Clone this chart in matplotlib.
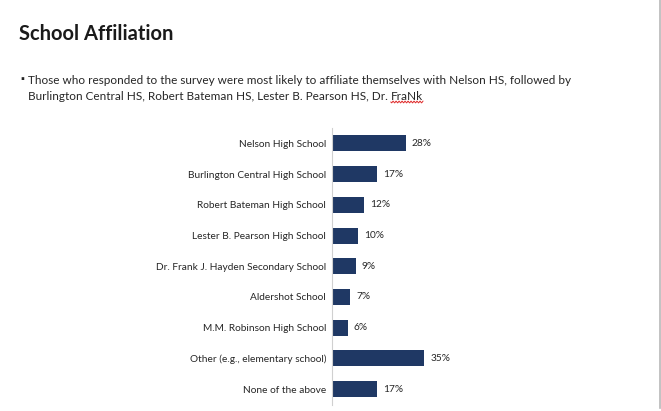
import numpy as np
import matplotlib
matplotlib.use("Agg")
from matplotlib import pyplot as plt
from matplotlib import lines

# survey data, top to bottom as shown
schools = ["Nelson High School",
           "Burlington Central High School",
           "Robert Bateman High School",
           "Lester B. Pearson High School",
           "Dr. Frank J. Hayden Secondary School",
           "Aldershot School",
           "M.M. Robinson High School",
           "Other (e.g., elementary school)",
           "None of the above"]
shares = [28, 17, 12, 10, 9, 7, 6, 35, 17]

title = "School Affiliation"
bullet_lines = ["Those who responded to the survey were most likely to affiliate themselves with Nelson HS, followed by",
                "Burlington Central HS, Robert Bateman HS, Lester B. Pearson HS, Dr. ",
                "FraNk"]

W, H = 661, 411
NAVY = "#1F3864"
TXT = "#262626"
plt.rcParams['font.family'] = ['Lato', 'DejaVu Sans']

fig = plt.figure(figsize=(W / 100, H / 100), dpi=100)


def fx(px):
    return px / W


def fy(py):
    return 1 - py / H


# title and bullet text
fig.text(fx(19), fy(34.5), title, fontsize=14.5, fontweight="bold",
         color="#1a1a1a", va="center", ha="left")
fig.text(fx(20), fy(80), "\u25aa", fontsize=7, color=TXT, va="center")
fig.text(fx(28), fy(80), bullet_lines[0], fontsize=8.5, color=TXT, va="center")
t2 = fig.text(fx(28), fy(96.5), bullet_lines[1], fontsize=8.5, color=TXT,
              va="center")

# misspelled word goes right after line 2, with a spell-check squiggle
renderer = fig.canvas.get_renderer()
x_end = 28 + t2.get_window_extent(renderer).width
t3 = fig.text(fx(x_end), fy(96.5), bullet_lines[2], fontsize=8.5, color=TXT,
              va="center")
w3 = t3.get_window_extent(renderer).width
sx = np.linspace(x_end, x_end + w3, 60)
sy = 102 + 0.9 * np.sin((sx - x_end) * 2.1)
fig.add_artist(lines.Line2D(fx(sx), fy(sy), color="#e03030", lw=0.7))

# right page border
fig.add_artist(lines.Line2D([fx(660), fx(660)], [fy(0), fy(408)],
                            color="#b8b8b8", lw=1.2))

ax = fig.add_axes([fx(332), fy(404.5), (596 - 332) / W, (404.5 - 128) / H])
ypos = np.arange(len(schools))
bars = ax.barh(ypos, shares, height=0.52, color=NAVY)
ax.set_xlim(0, 100)
ax.set_ylim(len(schools) - 0.5, -0.5)
for s in ["top", "right", "bottom"]:
    ax.spines[s].set_visible(False)
ax.spines["left"].set_color("#d0d0d0")
ax.spines["left"].set_linewidth(0.8)
ax.set_xticks([])
ax.set_yticks(ypos, schools)
ax.tick_params(axis="y", length=0, pad=4.3, labelsize=7.3, labelcolor=TXT)
ax.bar_label(bars, labels=[f"{v}%" for v in shares], padding=4.3,
             fontsize=7.3, color=TXT)

fig.savefig("out.png", dpi=100)
